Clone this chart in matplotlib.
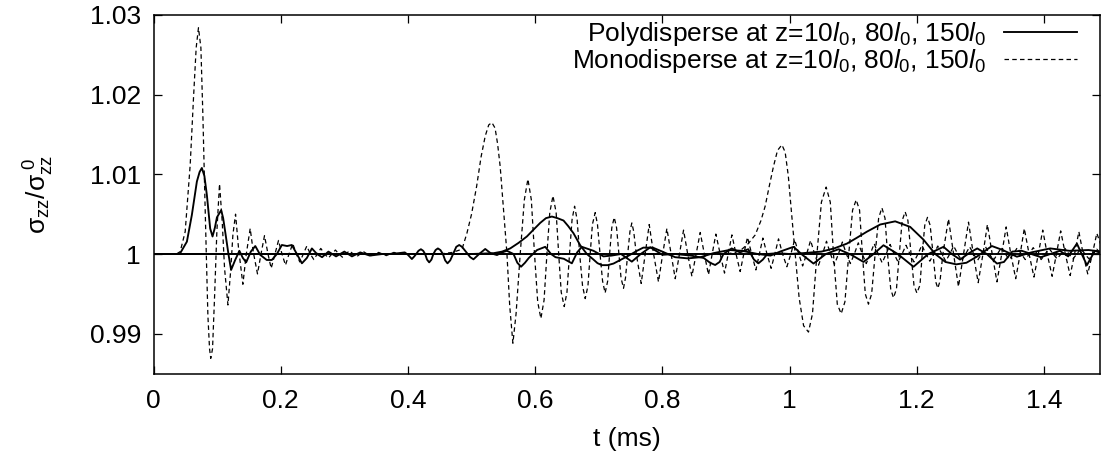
import matplotlib
matplotlib.use("Agg")
import matplotlib.pyplot as plt
from matplotlib.ticker import FixedLocator, FuncFormatter

plt.rcParams['font.family'] = ['Liberation Sans', 'DejaVu Sans']
plt.rcParams['mathtext.fontset'] = 'custom'
plt.rcParams['mathtext.rm'] = 'Liberation Sans'
plt.rcParams['mathtext.it'] = 'Liberation Sans:italic'
plt.rcParams['mathtext.bf'] = 'Liberation Sans:bold'

# ---------------- data (t in ms, normalised stress) ----------------
poly_10 = [
    (0.0, 1.0), (0.038, 1.0), (0.042, 1.0001), (0.0525, 1.00155), (0.0603, 1.0049),
    (0.0682, 1.0091), (0.0725, 1.0103), (0.076, 1.0108), (0.080, 1.0098), (0.0839, 1.0074),
    (0.0891, 1.0032), (0.0928, 1.0022), (0.0965, 1.0033), (0.0997, 1.0046), (0.1064, 1.0055),
    (0.1095, 1.0045), (0.1127, 1.0028), (0.118, 0.9999), (0.122, 0.9980), (0.1284, 0.99925),
    (0.135, 1.0004), (0.1405, 0.9995), (0.1457, 0.99896), (0.153, 1.0003), (0.160, 1.0010),
    (0.1677, 0.9999), (0.178, 0.99925), (0.186, 0.99925), (0.194, 1.0), (0.2018, 1.00113),
    (0.210, 1.0010), (0.2175, 1.00113), (0.2254, 1.0), (0.2333, 0.99883), (0.2411, 0.9995),
    (0.249, 1.0007), (0.257, 1.0), (0.265, 0.9996), (0.275, 1.0003), (0.287, 0.9997),
    (0.300, 1.0003), (0.312, 0.9997), (0.325, 1.0002), (0.340, 0.9998), (0.360, 1.0),
    (1.49, 1.0),
]

poly_80 = [
    (0.0, 1.0), (0.50, 1.0), (0.5345, 1.0001), (0.548, 1.0003), (0.5608, 1.0007),
    (0.574, 1.0014), (0.587, 1.0022), (0.598, 1.0031), (0.6079, 1.0039), (0.617, 1.0045),
    (0.6263, 1.0047), (0.635, 1.0045), (0.6446, 1.0042), (0.652, 1.0035), (0.6603, 1.0026),
    (0.6708, 1.0011), (0.6813, 1.0000), (0.6917, 0.9993), (0.698, 0.99885), (0.705, 0.9986),
    (0.714, 0.9986), (0.7232, 0.9988), (0.7389, 0.99946), (0.7494, 0.9999), (0.760, 1.0004),
    (0.770, 1.0008), (0.785, 1.0008), (0.800, 1.0003), (0.820, 0.9996), (0.840, 0.99945),
    (0.860, 0.9996), (0.880, 1.0001), (0.905, 1.0005), (0.925, 1.0004), (0.950, 1.0000),
    (0.970, 0.9998), (0.985, 1.0003), (1.0062, 1.0009), (1.020, 0.9999), (1.0376, 0.9988),
    (1.057, 1.0000), (1.0769, 1.0006), (1.097, 0.9999), (1.1162, 0.9990), (1.132, 1.0000),
    (1.1476, 1.0011), (1.170, 1.0000), (1.1948, 0.9984), (1.218, 1.0000), (1.242, 1.0009),
    (1.255, 1.0000), (1.268, 0.9993), (1.282, 1.0001), (1.295, 1.0007), (1.310, 1.0000),
    (1.326, 0.9988), (1.337, 0.9990), (1.350, 1.0003), (1.365, 1.0004), (1.380, 1.0000),
    (1.395, 0.9996), (1.410, 1.0000), (1.425, 1.0004), (1.438, 0.9997), (1.4517, 1.0013),
    (1.4674, 0.9986), (1.480, 1.0004), (1.490, 1.0001),
]

poly_150 = [
    (0.0, 1.0), (0.37, 1.0), (0.385, 1.0001), (0.395, 1.0002), (0.4000, 0.9999),
    (0.4062, 0.99937), (0.4100, 0.9997), (0.413, 1.0), (0.4165, 1.0004), (0.4204, 1.0006),
    (0.4240, 1.0004), (0.427, 1.0), (0.4300, 0.9993), (0.4334, 0.99895), (0.4370, 0.9993),
    (0.440, 1.0), (0.4435, 1.0005), (0.4471, 1.0007), (0.4510, 1.0005), (0.455, 1.0),
    (0.4585, 0.9992), (0.4622, 0.99883), (0.4665, 0.9992), (0.471, 1.0), (0.4760, 1.0009),
    (0.4806, 1.00113), (0.4850, 1.0009), (0.490, 1.0004), (0.498, 0.9996), (0.503, 0.99933),
    (0.512, 1.0), (0.5215, 1.00063), (0.530, 1.0001), (0.540, 0.99987), (0.548, 1.0002),
    (0.5556, 1.0004), (0.566, 1.0), (0.5720, 0.9989), (0.5778, 0.9984), (0.5840, 0.9989),
    (0.590, 0.9995), (0.603, 1.0005), (0.6158, 1.0009), (0.625, 1.0), (0.632, 0.9996),
    (0.645, 0.9994), (0.6577, 0.99883), (0.666, 1.0002), (0.6734, 1.0009), (0.6917, 1.0004),
    (0.7074, 0.9997), (0.720, 0.9998), (0.735, 1.0), (0.752, 0.99904), (0.766, 1.0),
    (0.781, 1.00084), (0.800, 0.9999), (0.820, 1.0), (0.845, 0.9998), (0.865, 0.9995),
    (0.875, 0.9989), (0.883, 0.99862), (0.890, 0.9990), (0.896, 1.0), (0.909, 1.0007),
    (0.922, 1.0002), (0.935, 1.0006), (0.944, 0.9993), (0.951, 0.99883), (0.958, 0.9993),
    (0.965, 1.0), (0.980, 1.0001), (1.000, 1.0),
    (1.020, 1.0001), (1.050, 1.0003), (1.070, 1.0007), (1.090, 1.0013), (1.105, 1.0020),
    (1.1215, 1.0028), (1.1424, 1.0037), (1.166, 1.0041), (1.1896, 1.0034), (1.2105, 1.0018),
    (1.229, 1.0000), (1.245, 0.9990), (1.262, 0.9987), (1.278, 0.9989), (1.295, 0.9997),
    (1.318, 1.0010), (1.335, 1.0005), (1.3573, 0.99966), (1.380, 1.0002), (1.4097, 1.0007),
    (1.440, 1.0004), (1.470, 1.0005), (1.490, 1.0003),
]

mono_10 = [
    (0.0, 1.0), (0.036, 1.0), (0.042, 1.0003), (0.0498, 1.0028), (0.0577, 1.0112),
    (0.0629, 1.0196), (0.0671, 1.0259), (0.0707, 1.0284), (0.0745, 1.0259), (0.0776, 1.0175),
    (0.0808, 1.0070), (0.0830, 1.0000), (0.0855, 0.9923), (0.0881, 0.9881), (0.0900, 0.9869),
    (0.0928, 0.9881), (0.0959, 0.9944), (0.0996, 1.0028), (0.1038, 1.0088), (0.1080, 1.0041),
    (0.1117, 0.9982), (0.1170, 0.9936), (0.1216, 0.9982), (0.1248, 1.0024), (0.1290, 1.0050),
    (0.1337, 1.0007), (0.1405, 0.9962), (0.1457, 0.9999), (0.1520, 1.0032), (0.1570, 1.0002),
    (0.1635, 0.9975), (0.1690, 1.0000), (0.1745, 1.0023), (0.1800, 1.0000), (0.1850, 0.9982),
    (0.1910, 1.0000), (0.1965, 1.0017), (0.2020, 1.0000), (0.2075, 0.9986), (0.2130, 1.0000),
    (0.2190, 1.0013), (0.2245, 1.0000), (0.2300, 0.9990), (0.2355, 1.0000), (0.2410, 1.0010),
    (0.2465, 1.0000), (0.2520, 0.9993), (0.2575, 1.0000), (0.2630, 1.0007), (0.2690, 1.0000),
    (0.2750, 0.9995), (0.2805, 1.0000), (0.2860, 1.0005), (0.2915, 1.0000), (0.2970, 0.9996),
    (0.3025, 1.0000), (0.3080, 1.0004), (0.3140, 1.0000), (0.3200, 0.9997), (0.3250, 1.0000),
    (0.3300, 1.0003), (0.3360, 1.0000), (0.3420, 0.9998), (0.3480, 1.0000), (0.3540, 1.0002),
    (0.3600, 1.0000), (0.3660, 0.9998), (0.3720, 1.0000), (0.3780, 1.0002), (0.3850, 1.0000),
    (1.49, 1.0),
]

mono_80 = [
    (0.0, 1.0), (0.45, 1.0), (0.47, 1.0002), (0.485, 1.0006), (0.4927, 1.0026),
    (0.500, 1.0050), (0.508, 1.0085), (0.515, 1.0122), (0.5215, 1.0148), (0.527, 1.0162),
    (0.532, 1.0165), (0.537, 1.0158), (0.541, 1.0138), (0.545, 1.0110), (0.550, 1.0058),
    (0.5556, 1.0001), (0.560, 0.9935), (0.565, 0.9888), (0.570, 0.9925), (0.5765, 1.0000),
    (0.583, 1.0068), (0.5886, 1.0094), (0.594, 1.0068), (0.599, 1.0000), (0.604, 0.9940),
    (0.609, 0.9919), (0.614, 0.9942), (0.6185, 1.0000), (0.623, 1.0052), (0.628, 1.0073),
    (0.633, 1.0052), (0.637, 1.0000), (0.641, 0.9952), (0.6457, 0.9934), (0.650, 0.9952),
    (0.654, 1.0000), (0.658, 1.0043), (0.662, 1.0060), (0.666, 1.0043), (0.670, 1.0000),
    (0.6745, 0.9960), (0.6787, 0.9944), (0.683, 0.9960), (0.6865, 1.0000), (0.690, 1.0037),
    (0.6944, 1.0052), (0.698, 1.0037), (0.702, 1.0000), (0.706, 0.9966), (0.710, 0.9951),
    (0.714, 0.9966), (0.717, 1.0000), (0.7205, 1.0033), (0.7243, 1.0046), (0.728, 1.0033),
    (0.7316, 1.0000), (0.735, 0.9970), (0.7389, 0.9957), (0.742, 0.9970), (0.7455, 1.0000),
    (0.749, 1.0028), (0.752, 1.0039), (0.755, 1.0028), (0.759, 1.0000), (0.7667, 0.9963),
    (0.7730, 1.0000), (0.7793, 1.0037), (0.7862, 1.0000), (0.7939, 0.9965), (0.8005, 1.0000),
    (0.8071, 1.0032), (0.8137, 1.0000), (0.8202, 0.9969), (0.8268, 1.0000), (0.8333, 1.0030),
    (0.8398, 1.0000), (0.8464, 0.9972), (0.8530, 1.0000), (0.8595, 1.0027), (0.8660, 1.0000),
    (0.8725, 0.9974), (0.8783, 1.0000), (0.8841, 1.0025), (0.8909, 1.0000), (0.8977, 0.9976),
    (0.9035, 1.0000), (0.9093, 1.0024), (0.9158, 1.0000), (0.9223, 0.9978), (0.9280, 1.0000),
    (0.9338, 1.0021), (0.9404, 1.0000), (0.9470, 0.9980), (0.9525, 1.0000), (0.9580, 1.0020),
    (0.9645, 1.0000), (0.9710, 0.9982), (0.9768, 1.0000), (0.9826, 1.0019), (0.9890, 1.0000),
    (0.9957, 0.9984), (1.0020, 1.0000), (1.0080, 1.0018), (1.0145, 1.0000), (1.0205, 0.9985),
    (1.0268, 1.0000), (1.0330, 1.0017), (1.0393, 1.0000), (1.0455, 0.9986), (1.0518, 1.0000),
    (1.0580, 1.0016), (1.0643, 1.0000), (1.0705, 0.9987), (1.0768, 1.0000), (1.0830, 1.0015),
    (1.0893, 1.0000), (1.0955, 0.9988), (1.1018, 1.0000), (1.1080, 1.0014), (1.1143, 1.0000),
    (1.1205, 0.9988), (1.1268, 1.0000), (1.1330, 1.0013), (1.1393, 1.0000), (1.1455, 0.9989),
    (1.1518, 1.0000), (1.1580, 1.0012), (1.1643, 1.0000), (1.1705, 0.9990), (1.1768, 1.0000),
    (1.1830, 1.0011), (1.1893, 1.0000), (1.1955, 0.9990), (1.2018, 1.0000), (1.2080, 1.0011),
    (1.2143, 1.0000), (1.2205, 0.9991), (1.2268, 1.0000), (1.2330, 1.0010), (1.2393, 1.0000),
    (1.2455, 0.9991), (1.2518, 1.0000), (1.2580, 1.0010), (1.2643, 1.0000), (1.2705, 0.9992),
    (1.2768, 1.0000), (1.2830, 1.0009), (1.2893, 1.0000), (1.2955, 0.9992), (1.3018, 1.0000),
    (1.3080, 1.0009), (1.3143, 1.0000), (1.3205, 0.9992), (1.3268, 1.0000), (1.3330, 1.0008),
    (1.3393, 1.0000), (1.3455, 0.9993), (1.3518, 1.0000), (1.3580, 1.0008), (1.3643, 1.0000),
    (1.3705, 0.9993), (1.3768, 1.0000), (1.3830, 1.0008), (1.3893, 1.0000), (1.3955, 0.9993),
    (1.4018, 1.0000), (1.4080, 1.0007), (1.4143, 1.0000), (1.4205, 0.9994), (1.4268, 1.0000),
    (1.4330, 1.0007), (1.4393, 1.0000), (1.4455, 0.9994), (1.4518, 1.0000), (1.4580, 1.0007),
    (1.4643, 1.0000), (1.4705, 0.9994), (1.4768, 1.0000), (1.4830, 1.0006), (1.4900, 1.0000),
]

mono_150 = [
    (0.0, 1.0), (0.90, 1.0), (0.915, 1.0002), (0.925, 1.0006), (0.935, 1.0013),
    (0.946, 1.0024), (0.955, 1.0042), (0.9616, 1.0060), (0.968, 1.0085), (0.9747, 1.0110),
    (0.981, 1.0130), (0.9879, 1.0137), (0.993, 1.0128), (0.998, 1.0098), (1.003, 1.0052),
    (1.0088, 1.0000), (1.015, 0.9945), (1.022, 0.9910), (1.0297, 0.9902), (1.036, 0.9925),
    (1.043, 1.0000), (1.050, 1.0065), (1.0575, 1.0084), (1.064, 1.0065), (1.069, 1.0000),
    (1.075, 0.9937), (1.0811, 0.9925), (1.087, 0.9940), (1.093, 1.0000), (1.099, 1.0055),
    (1.1047, 1.0068), (1.110, 1.0055), (1.1145, 1.0000), (1.119, 0.9950), (1.124, 0.9937),
    (1.129, 0.9950), (1.1345, 1.0000), (1.140, 1.0045), (1.1451, 1.0058), (1.150, 1.0045),
    (1.154, 1.0000), (1.159, 0.9956), (1.1633, 0.9945), (1.168, 0.9956), (1.1725, 1.0000),
    (1.177, 1.0042), (1.1817, 1.0053), (1.186, 1.0042), (1.191, 1.0000), (1.1955, 0.9961),
    (1.2001, 0.9951), (1.205, 0.9961), (1.2085, 1.0000), (1.2125, 1.0036), (1.2168, 1.0046),
    (1.221, 1.0036), (1.2255, 1.0000), (1.2298, 0.9965), (1.2330, 0.9957), (1.2365, 0.9966),
    (1.2410, 1.0000), (1.2498, 1.0044), (1.2578, 1.0000), (1.2655, 0.9959), (1.2735, 1.0000),
    (1.2813, 1.0040), (1.2888, 1.0000), (1.2965, 0.9964), (1.3040, 1.0000), (1.3110, 1.0037),
    (1.3185, 1.0000), (1.3260, 0.9965), (1.3335, 1.0000), (1.3405, 1.0034), (1.3478, 1.0000),
    (1.3555, 0.9969), (1.3625, 1.0000), (1.3690, 1.0032), (1.3765, 1.0000), (1.3842, 0.9971),
    (1.3910, 1.0000), (1.3980, 1.0030), (1.4050, 1.0000), (1.4128, 0.9972), (1.4195, 1.0000),
    (1.4262, 1.0029), (1.4335, 1.0000), (1.4411, 0.9973), (1.4480, 1.0000), (1.4548, 1.0028),
    (1.4615, 1.0000), (1.4687, 0.9975), (1.4760, 1.0000), (1.4830, 1.0026), (1.4900, 1.0010),
]

x_ticks = [0, 0.2, 0.4, 0.6, 0.8, 1.0, 1.2, 1.4]
y_ticks = [0.99, 1.0, 1.01, 1.02, 1.03]
poly_label = r"Polydisperse at z=10$\mathit{l}_0$, 80$\mathit{l}_0$, 150$\mathit{l}_0$"
mono_label = r"Monodisperse at z=10$\mathit{l}_0$, 80$\mathit{l}_0$, 150$\mathit{l}_0$"

# ---------------- figure ----------------
W, H = 1102, 458
AX_L, AX_R, AX_T, AX_B = 153.5, 1100.0, 15.0, 373.5
fig = plt.figure(figsize=(W / 100, H / 100), dpi=100)
ax = fig.add_axes([AX_L / W, 1 - AX_B / H, (AX_R - AX_L) / W, (AX_B - AX_T) / H])

FS = 19
solid_kw = dict(color='black', lw=1.35, solid_joinstyle='round')
dash_kw = dict(color='black', lw=0.9, linestyle=(0, (3.6, 2.6)))

handles = []
for i, series in enumerate([poly_10, poly_80, poly_150]):
    t, y = zip(*series)
    ln, = ax.plot(t, y, **solid_kw)
    if i == 0:
        handles.append(ln)
for i, series in enumerate([mono_10, mono_80, mono_150]):
    t, y = zip(*series)
    ln, = ax.plot(t, y, **dash_kw)
    if i == 0:
        handles.append(ln)

ax.set_xlim(0, 1.488)
ax.set_ylim(0.985, 1.03)
ax.xaxis.set_major_locator(FixedLocator(x_ticks))
ax.yaxis.set_major_locator(FixedLocator(y_ticks))
fmt = FuncFormatter(lambda v, p: '%g' % round(v, 4))
ax.xaxis.set_major_formatter(fmt)
ax.yaxis.set_major_formatter(fmt)
ax.tick_params(direction='in', top=True, right=True, length=6, width=0.9,
               labelsize=FS)
ax.tick_params(axis='x', pad=11)
ax.tick_params(axis='y', pad=9)
for s in ax.spines.values():
    s.set_linewidth(1.1)

ax.set_xlabel('t (ms)', fontsize=FS, labelpad=10)
ax.set_ylabel(r'$\mathrm{\sigma_{zz}/\sigma_{zz}^{\ 0}}$', fontsize=FS, labelpad=24)

leg_right = 1 - (AX_R - 1077) / (AX_R - AX_L)
leg_top = 1 - 5.5 / (AX_B - AX_T)
leg = ax.legend(handles, [poly_label, mono_label], loc='upper right',
                bbox_to_anchor=(leg_right, leg_top), frameon=False, markerfirst=False,
                fontsize=FS, handlelength=2.75, handletextpad=0.68,
                labelspacing=-0.04, borderpad=0.0, borderaxespad=0.0)

fig.savefig('out.png', dpi=100)
